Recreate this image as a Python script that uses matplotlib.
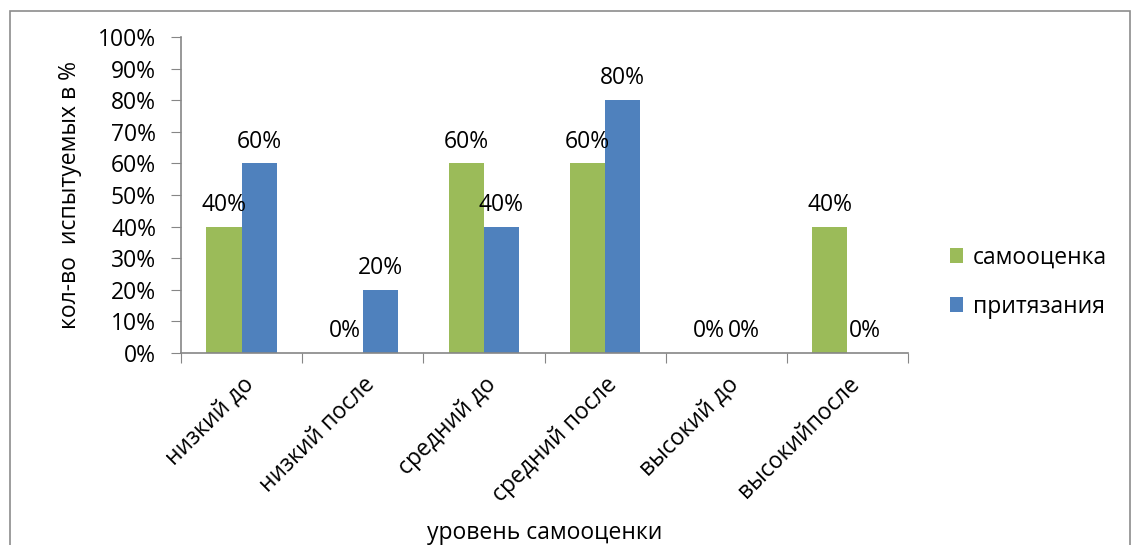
import matplotlib
matplotlib.use('Agg')
import matplotlib.pyplot as plt
import numpy as np
from matplotlib.patches import Rectangle

plt.rcParams['font.family'] = ['Open Sans', 'DejaVu Sans']

categories = ['низкий до', 'низкий после', 'средний до', 'средний после',
              'высокий до', 'высокийпосле']
samoocenka = [40, 0, 60, 60, 0, 40]
prityazaniya = [60, 20, 40, 80, 0, 0]
series_names = ['самооценка', 'притязания']
green = '#9BBB59'
blue = '#4F81BD'
axis_gray = '#868686'
fs = 16.5

fig = plt.figure(figsize=(11.36, 5.45), dpi=100)
ax = fig.add_axes([181 / 1136, 1 - 353 / 545, 727 / 1136, 316 / 545])

# outer chart frame, open at the bottom
fig.patches.append(Rectangle((10 / 1136, -0.1), 1120 / 1136, 1 - 11 / 545 + 0.1,
                             transform=fig.transFigure, fill=False,
                             edgecolor='#8c8c8c', linewidth=1.2))

x = np.arange(len(categories))
w = 0.29
b1 = ax.bar(x - w / 2, np.array(samoocenka) / 100, w, color=green, label=series_names[0])
b2 = ax.bar(x + w / 2, np.array(prityazaniya) / 100, w, color=blue, label=series_names[1])

for bars, vals in ((b1, samoocenka), (b2, prityazaniya)):
    for r, v in zip(bars, vals):
        ax.annotate(f'{v}%', (r.get_x() + r.get_width() / 2, v / 100),
                    xytext=(0, 7), textcoords='offset points',
                    ha='center', va='bottom', fontsize=fs, color='black')

ax.set_xlim(-0.5, len(categories) - 0.5)
ax.set_ylim(0, 1)
ax.set_yticks(np.arange(0, 1.01, 0.1))
ax.set_yticklabels([f'{int(round(t * 100))}%' for t in np.arange(0, 1.01, 0.1)], fontsize=fs)

# category boundaries carry the tick marks, names sit at centres
ax.set_xticks(np.arange(-0.5, len(categories), 1))
ax.set_xticklabels([])
ax.set_xticks(x, minor=True)
ax.set_xticklabels(categories, minor=True, rotation=45, ha='right',
                   rotation_mode='anchor', fontsize=fs)
ax.tick_params(axis='x', which='minor', length=0, pad=14)
ax.tick_params(axis='x', which='major', length=7, color=axis_gray, direction='out')
ax.tick_params(axis='y', length=7, color=axis_gray, direction='out', pad=11)

for s in ('top', 'right'):
    ax.spines[s].set_visible(False)
for s in ('left', 'bottom'):
    ax.spines[s].set_color(axis_gray)
    ax.spines[s].set_linewidth(1.2)

fig.text(70 / 1136, 1 - 195 / 545, 'кол-во  испытуемых в %', rotation=90,
         ha='center', va='center', fontsize=fs)
fig.text(545 / 1136, 1 - 533 / 545, 'уровень самооценки',
         ha='center', va='center', fontsize=fs)

fig.legend(handles=[b1, b2], labels=series_names, loc='center left',
           bbox_to_anchor=(929 / 1136, 1 - 282 / 545), frameon=False,
           fontsize=fs, handlelength=0.6, handleheight=0.6, handletextpad=0.4,
           labelspacing=1.1)

fig.savefig('out.png', dpi=100)
